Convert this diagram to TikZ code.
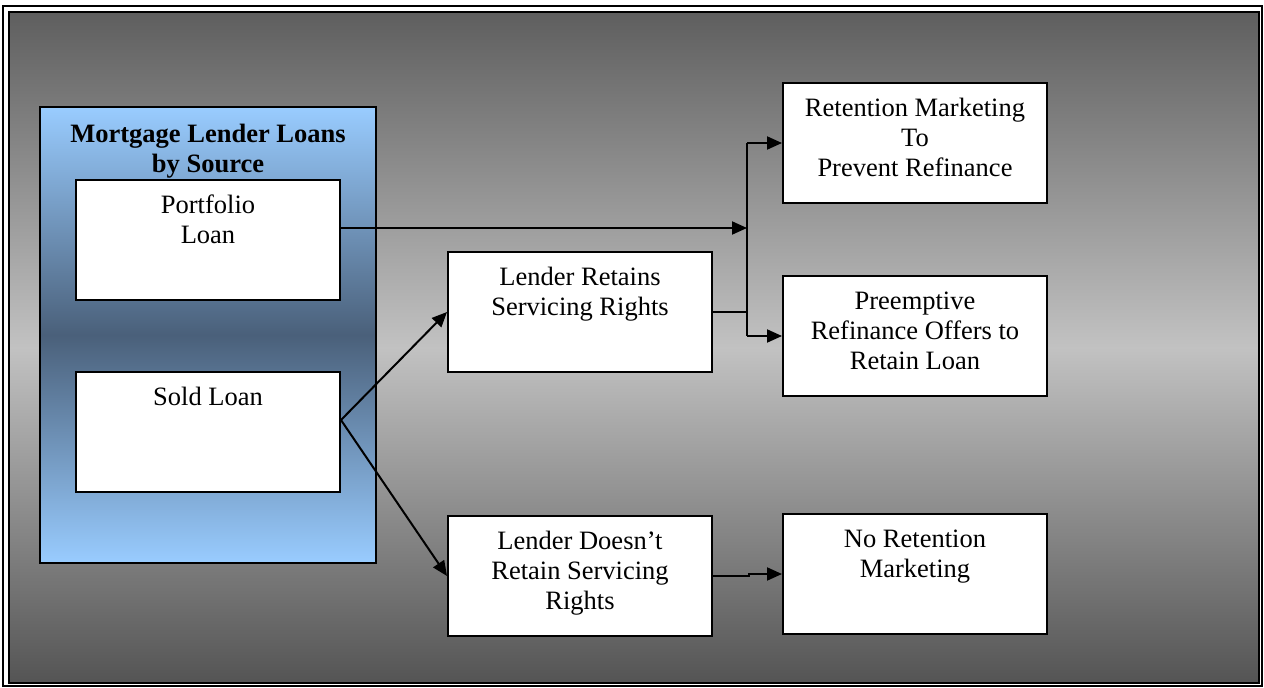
\documentclass[tikz,border=0pt]{standalone}
\usepackage{fontspec}
\setmainfont{Liberation Serif}
\usetikzlibrary{positioning,arrows.meta}

\definecolor{skyblue}{RGB}{153,204,255}
\definecolor{slateblue}{RGB}{74,96,122}
\pgfdeclareverticalshading{bggray}{100bp}{color(0bp)=(black!67); color(25bp)=(black!67); color(50bp)=(black!24); color(75bp)=(black!63); color(100bp)=(black!63)}
\pgfdeclareverticalshading{srcblue}{100bp}{color(0bp)=(skyblue); color(25bp)=(skyblue); color(50bp)=(slateblue); color(75bp)=(skyblue); color(100bp)=(skyblue)}

\newcommand{\boxtxt}[1]{\parbox[c][96pt][t]{252pt}{\centering\strut #1}}

\begin{document}
\begin{tikzpicture}[x=1pt,y=-1pt,
    font=\fontsize{26.5}{30}\selectfont,
    box/.style={draw,fill=white,line width=2pt,inner xsep=6pt,inner ysep=12pt},
    line/.style={line width=2pt},
    arr/.style={line width=2pt,-{Triangle[length=15pt,width=13pt]}}]
    \useasboundingbox (0,0) rectangle (1264,688);
    % frame and background
    \draw [line width=2.5pt,fill=white] (3,6) rectangle (1262,686);
    \draw [line width=2pt,shading=bggray] (9,12) rectangle (1259,683);
    % loan sources
    \node (src) [draw,line width=2pt,minimum width=336,minimum height=456,inner sep=0,shading=srcblue] at (208,335) {};
    \node (title) [align=center,font=\fontsize{26.5}{30}\selectfont\bfseries] at (208,151) {Mortgage Lender Loans\\by Source};
    \node (port) [box] at (208,240) {\boxtxt{Portfolio\\Loan}};
    \node (sold) [box] at (208,432) {\boxtxt{Sold Loan}};
    % servicing
    \node (retain) [box] at (580,312) {\boxtxt{Lender Retains\\Servicing Rights}};
    \node (doesnt) [box] at (580,576) {\boxtxt{Lender Doesn’t\\Retain Servicing\\Rights}};
    % marketing
    \node (retmkt) [box] at (915,143) {\boxtxt{Retention Marketing\\To\\Prevent Refinance}};
    \node (preempt) [box] at (915,336) {\boxtxt{Preemptive\\Refinance Offers to\\Retain Loan}};
    \node (nomkt) [box] at (915,574) {\boxtxt{No Retention\\Marketing}};
    \coordinate (fork) at (747,228);
    \draw [arr] ([yshift=12pt]port.east) -- (fork);
    \draw [arr] ([yshift=12pt]sold.east) -- (retain.west);
    \draw [arr] ([yshift=12pt]sold.east) -- (doesnt.west);
    \draw [line] (retain.east) -- (retain.east -| fork);
    \draw [line] (fork |- retmkt.west) -- (fork |- preempt.west);
    \draw [arr] (fork |- retmkt.west) -- (retmkt.west);
    \draw [arr] (fork |- preempt.west) -- (preempt.west);
    \draw [arr] (doesnt.east) -- ++(36,0) |- (nomkt.west);
\end{tikzpicture}
\end{document}
